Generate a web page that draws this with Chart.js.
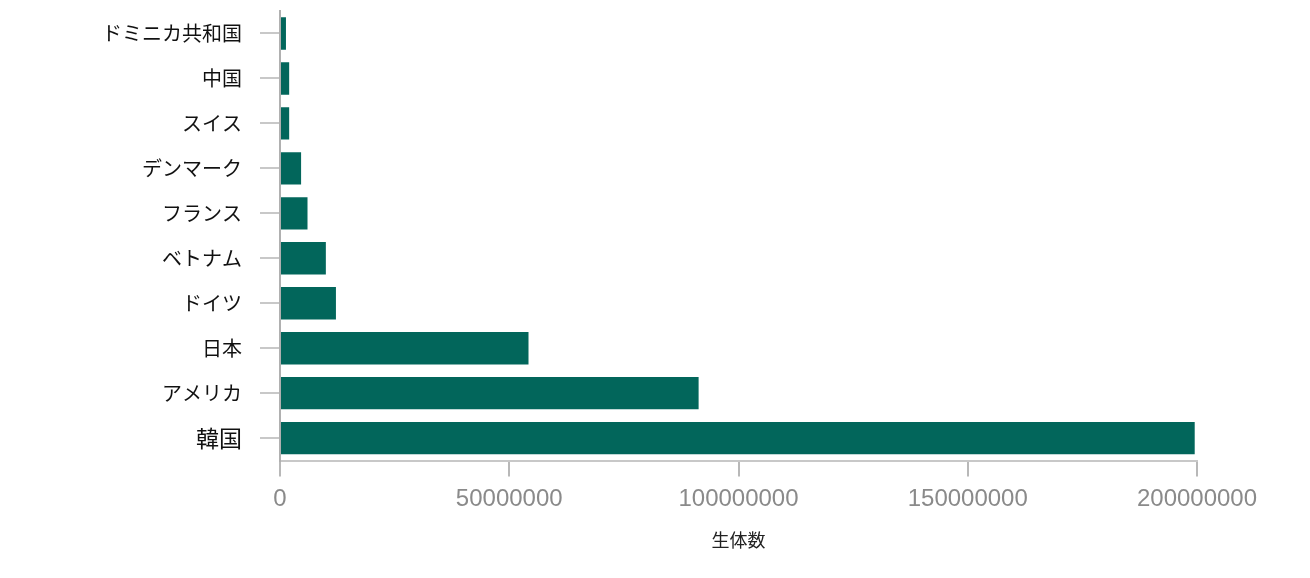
<!DOCTYPE html>
<html>
<head>
<meta charset="utf-8">
<script src="https://cdn.jsdelivr.net/npm/chart.js@4"></script>
<style>
  html, body { margin: 0; padding: 0; background: #fff; }
  #wrap { width: 1310px; height: 578px; }
</style>
</head>
<body>
<div id="wrap"><canvas id="chart"></canvas></div>
<script>
const countries = ['ドミニカ共和国', '中国', 'スイス', 'デンマーク', 'フランス', 'ベトナム', 'ドイツ', '日本', 'アメリカ', '韓国'];
const counts = [1300000, 2000000, 2000000, 4600000, 6000000, 10000000, 12200000, 54200000, 91300000, 199500000];
const xTicks = [0, 50000000, 100000000, 150000000, 200000000];
const xTitle = '生体数';

const jpFont = "'Noto Sans CJK JP', 'Noto Sans', sans-serif";

let chart;

const drawChart = (canvas) => {
  if (chart) {
    chart.destroy();
  }
  chart = new Chart(canvas, {
    type: 'bar',
    data: {
      labels: countries,
      datasets: [
        {
          label: xTitle,
          data: counts,
          backgroundColor: '#02665b',
          borderWidth: 0,
          barPercentage: 0.8,
          categoryPercentage: 0.9,
        },
      ],
    },
    options: {
      indexAxis: 'y',
      responsive: true,
      maintainAspectRatio: false,
      animation: false,
      layout: {
        padding: { top: 11, right: 113, bottom: 27, left: 0 },
      },
      plugins: {
        legend: { display: false },
        tooltip: { enabled: false },
      },
      scales: {
        x: {
          min: xTicks[0],
          max: xTicks[xTicks.length - 1],
          afterBuildTicks: (scale) => {
            scale.ticks = xTicks.map((v) => ({ value: v }));
          },
          ticks: {
            callback: (v) => String(v),
            color: '#8a8a8a',
            padding: 8,
            maxRotation: 0,
            font: { family: "'Liberation Sans', Arial, sans-serif", size: 24 },
          },
          grid: {
            drawOnChartArea: false,
            drawTicks: true,
            tickLength: 16,
            color: '#b8b8b8',
            lineWidth: 2,
          },
          border: { color: '#c8c8c8', width: 2 },
          title: {
            display: true,
            text: xTitle,
            color: '#222',
            padding: { top: 8, bottom: 0 },
            font: { family: jpFont, size: 18 },
          },
        },
        y: {
          afterFit: (scale) => {
            // fixed axis width, and no extra space above/below for the labels
            scale.width = 280;
            scale.paddingTop = 0;
            scale.paddingBottom = 0;
          },
          ticks: {
            color: '#111',
            padding: 18,
            font: (ctx) => ({
              family: jpFont,
              size: ctx.index === countries.length - 1 ? 23 : 20,
            }),
          },
          grid: {
            offset: false,
            drawOnChartArea: false,
            drawTicks: true,
            tickLength: 20,
            color: '#c8c8c8',
            lineWidth: 2,
          },
          border: { color: '#b0b0b0', width: 2 },
        },
      },
    },
  });
};

drawChart(document.getElementById('chart'));
</script>
</body>
</html>
